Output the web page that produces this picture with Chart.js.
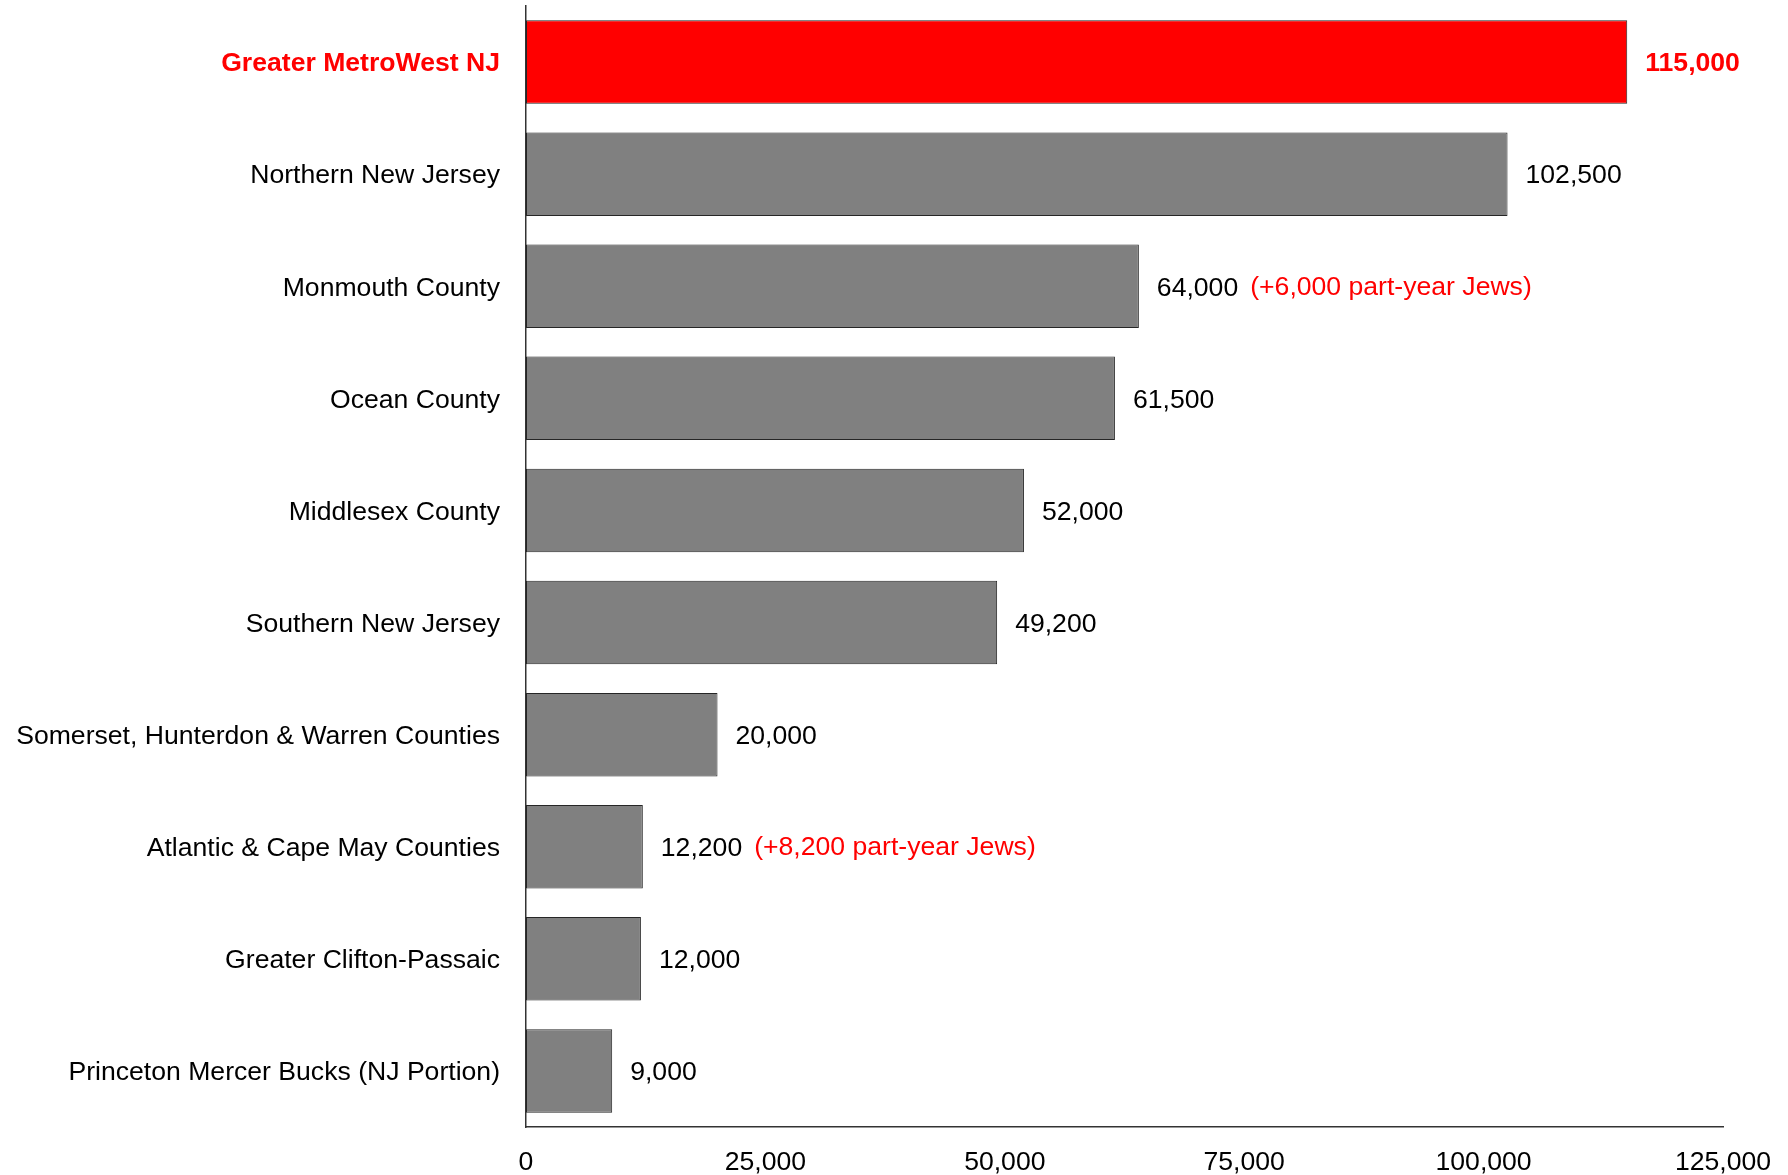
<!DOCTYPE html>
<html>
<head>
<meta charset="utf-8">
<script src="https://cdn.jsdelivr.net/npm/chart.js@4/dist/chart.umd.min.js"></script>
<style>
  html, body { margin: 0; padding: 0; background: #fff; }
  #wrap { width: 1788px; height: 1175px; position: relative; }
</style>
</head>
<body>
<div id="wrap"><canvas id="chart"></canvas></div>
<script>
// Jewish population by NJ community
const categories = [
  'Greater MetroWest NJ',
  'Northern New Jersey',
  'Monmouth County',
  'Ocean County',
  'Middlesex County',
  'Southern New Jersey',
  'Somerset, Hunterdon & Warren Counties',
  'Atlantic & Cape May Counties',
  'Greater Clifton-Passaic',
  'Princeton Mercer Bucks (NJ Portion)'
];
const values = [115000, 102500, 64000, 61500, 52000, 49200, 20000, 12200, 12000, 9000];
const notes = [null, null, '(+6,000 part-year Jews)', null, null, null, null, '(+8,200 part-year Jews)', null, null];
const highlight = 0;   // 강조할 막대 (빨강)
const xTicks = [0, 25000, 50000, 75000, 100000, 125000];

const FONT = '"Liberation Sans", Arial, sans-serif';
const FS = 26.6;
const RED = '#ff0000';
const fmt = v => v.toLocaleString('en-US');

// 막대 끝에 값 + 빨간 주석
const valueLabels = {
  id: 'valueLabels',
  afterDatasetsDraw(chart) {
    const ctx = chart.ctx;
    const meta = chart.getDatasetMeta(0);
    ctx.save();
    ctx.textBaseline = 'middle';
    ctx.textAlign = 'left';
    meta.data.forEach((bar, i) => {
      const bold = i === highlight;
      ctx.font = (bold ? 'bold ' : '') + FS + 'px ' + FONT;
      ctx.fillStyle = bold ? RED : '#000';
      const txt = fmt(values[i]);
      const x = bar.x + 18;
      ctx.fillText(txt, x, bar.y + 2);
      if (notes[i]) {
        const w = ctx.measureText(txt).width;
        ctx.font = FS + 'px ' + FONT;
        ctx.fillStyle = RED;
        ctx.fillText(notes[i], x + w + 12, bar.y + 1);
      }
    });
    ctx.restore();
  }
};

new Chart(document.getElementById('chart'), {
  type: 'bar',
  data: {
    labels: categories,
    datasets: [{
      data: values,
      backgroundColor: values.map((_, i) => i === highlight ? RED : '#808080'),
      borderColor: '#262626',
      borderWidth: 1,
      borderSkipped: false,
      barPercentage: 0.745,
      categoryPercentage: 1
    }]
  },
  options: {
    indexAxis: 'y',
    responsive: true,
    maintainAspectRatio: false,
    animation: false,
    layout: { padding: { top: 6, right: 65, left: 0, bottom: 0 } },
    plugins: { legend: { display: false }, tooltip: { enabled: false } },
    scales: {
      x: {
        min: 0, max: 125000,
        afterBuildTicks: s => { s.ticks = xTicks.map(v => ({ value: v })); },
        afterFit: s => { s.height = 48; s.paddingLeft = 0; s.paddingRight = 0; },
        grid: { display: false, drawTicks: false },
        border: { display: true, color: '#333', width: 1.5 },
        ticks: {
          color: '#000', padding: 20, maxRotation: 0,
          font: { family: FONT, size: FS },
          callback: v => fmt(v)
        }
      },
      y: {
        afterFit: s => { s.width = 526; s.paddingTop = 0; s.paddingBottom = 0; },
        grid: { display: false, drawTicks: false },
        border: { display: true, color: '#333', width: 1.5 },
        ticks: {
          padding: 26,
          labelOffset: 2,
          color: c => c.index === highlight ? RED : '#000',
          font: c => ({ family: FONT, size: FS, weight: c.index === highlight ? 'bold' : 'normal' })
        }
      }
    }
  },
  plugins: [valueLabels]
});
</script>
</body>
</html>
